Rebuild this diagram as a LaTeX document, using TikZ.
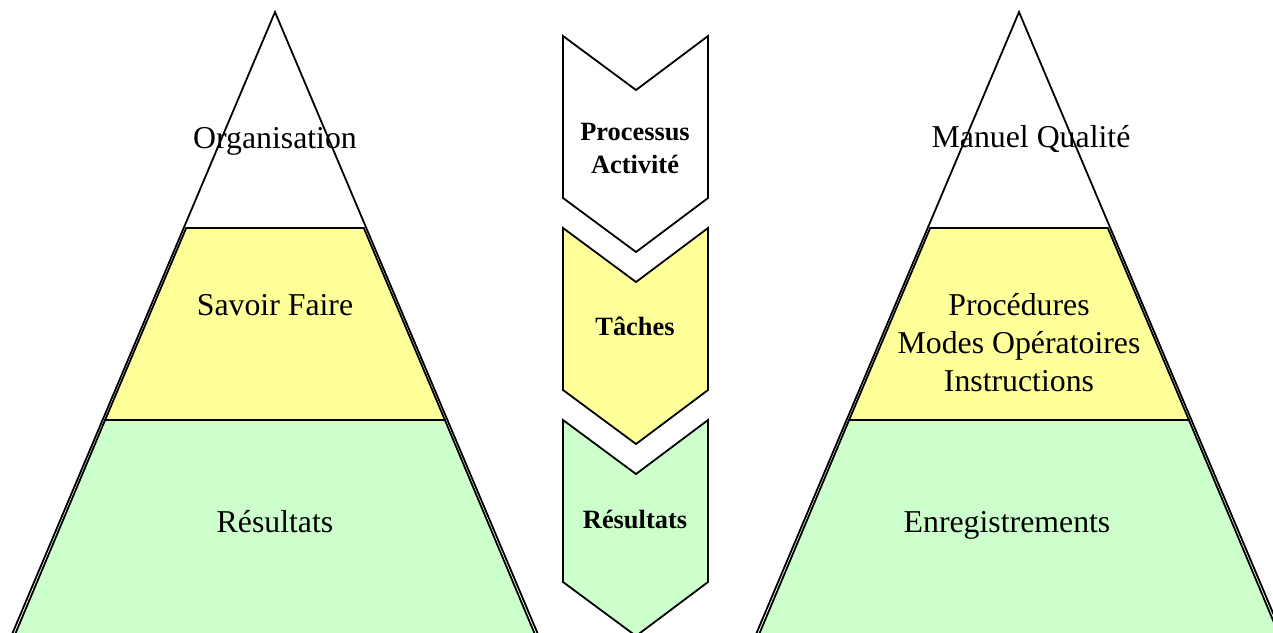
\documentclass[tikz,border=0pt]{standalone}
\usepackage{fontspec}
\setmainfont{Liberation Serif}
\definecolor{layeryellow}{HTML}{FFFF99}
\definecolor{layergreen}{HTML}{CCFFCC}
\begin{document}
\begin{tikzpicture}[x=0.5pt,y=-0.5pt,
  outline/.style={draw=black,line width=0.9pt,line join=miter},
  label/.style={font=\fontsize{15.9}{19}\selectfont,anchor=base,inner sep=0pt},
  steplabel/.style={font=\fontsize{13.2}{15.5}\selectfont\bfseries,anchor=base,inner sep=0pt}]
\useasboundingbox (0,0) rectangle (1273,632);
\clip (0,0) rectangle (1273,632);

% left pyramid: layers, then outer triangle
\fill[layeryellow] (186.2,228) -- (363.8,228) -- (444.9,420) -- (105.1,420) -- cycle;
\draw[outline] (186.2,228) -- (363.8,228) -- (444.9,420) -- (105.1,420) -- cycle;
\fill[layergreen] (105.1,420) -- (444.9,420) -- (537.3,640) -- (12.7,640) -- cycle;
\draw[outline] (105.1,420) -- (444.9,420) -- (537.3,640) -- (12.7,640) -- cycle;
\draw[outline] (9.6,640) -- (275,12) -- (540.4,640);

% right pyramid
\fill[layeryellow] (930.2,228) -- (1107.8,228) -- (1188.9,420) -- (849.1,420) -- cycle;
\draw[outline] (930.2,228) -- (1107.8,228) -- (1188.9,420) -- (849.1,420) -- cycle;
\fill[layergreen] (849.1,420) -- (1188.9,420) -- (1281.3,640) -- (756.7,640) -- cycle;
\draw[outline] (849.1,420) -- (1188.9,420) -- (1281.3,640) -- (756.7,640) -- cycle;
\draw[outline] (753.6,640) -- (1019,12) -- (1284.4,640);

% chevrons
\draw[outline,fill=white] (563,36) -- (636,90) -- (708,36) -- (708,198) -- (636,252) -- (563,198) -- cycle;
\draw[outline,fill=layeryellow] (563,228) -- (636,282) -- (708,228) -- (708,390) -- (636,444) -- (563,390) -- cycle;
\draw[outline,fill=layergreen] (563,420) -- (636,474) -- (708,420) -- (708,582) -- (636,636) -- (563,582) -- cycle;

% pyramid texts
\node[label] (org) at (275,148) {Organisation};
\node[label] (sf) at (275,315) {Savoir Faire};
\node[label] (resl) at (275,532) {Résultats};
\node[label] (mq) at (1031,147) {Manuel Qualité};
\node[label] (proc) at (1019,315) {Procédures};
\node[label] (modes) at (1019,353) {Modes Opératoires};
\node[label] (instr) at (1019,391) {Instructions};
\node[label] (enr) at (1007,532) {Enregistrements};

% chevron texts
\node[steplabel] (pr) at (635,140) {Processus};
\node[steplabel] (act) at (635,173) {Activité};
\node[steplabel] (tach) at (635,335) {Tâches};
\node[steplabel] (resc) at (635,528) {Résultats};
\end{tikzpicture}
\end{document}
